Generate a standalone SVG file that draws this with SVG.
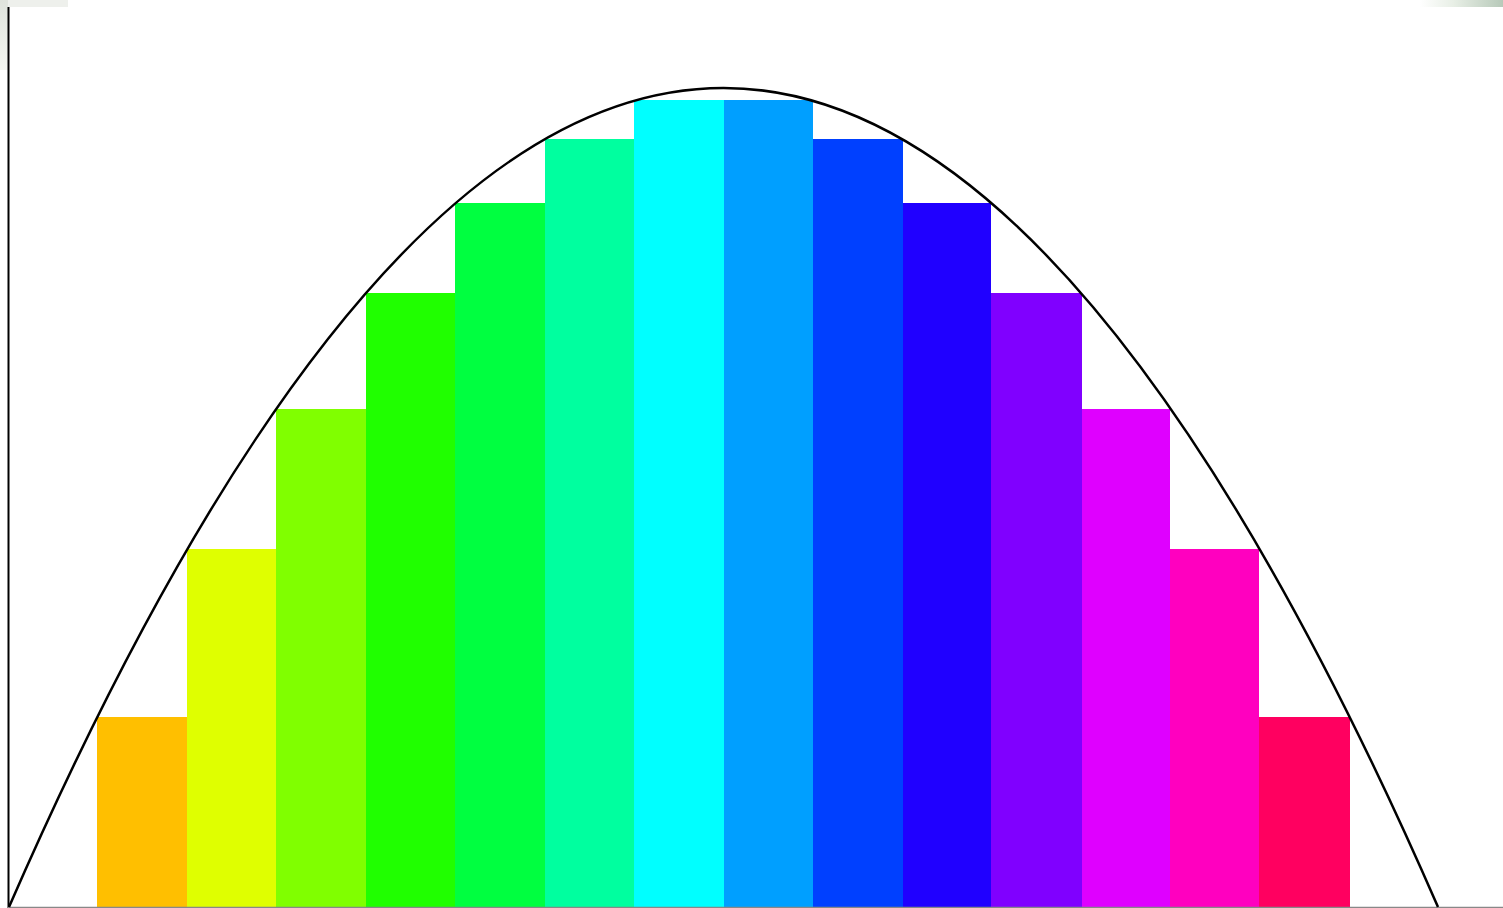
<svg xmlns="http://www.w3.org/2000/svg" width="1503" height="908" viewBox="0 0 1503 908">
<style>
.bar{shape-rendering:crispEdges}
.curve{fill:none;stroke:#000;stroke-width:2.5}
.axis{stroke:#000;stroke-width:2;fill:none}
</style>
<defs>
<linearGradient id="tr" x1="0" y1="0" x2="1" y2="0">
<stop offset="0" stop-color="#ffffff"/>
<stop offset="0.4" stop-color="#e8efe6"/>
<stop offset="1" stop-color="#b7c9b9"/>
</linearGradient>
<linearGradient id="tl" x1="0" y1="0" x2="0" y2="1">
<stop offset="0" stop-color="#dfe3dc"/>
<stop offset="1" stop-color="#f4f7f1"/>
</linearGradient>
</defs>
<rect x="0" y="0" width="1503" height="908" fill="#fff"/>
<rect x="1420" y="0" width="83" height="7" fill="url(#tr)"/>
<rect x="0" y="0" width="8" height="70" fill="url(#tl)"/>
<rect x="8" y="0" width="60" height="7" fill="#eef0ec"/>
<g id="bars">
<rect id="bar1" class="bar" x="97" y="717" width="90" height="191" fill="#FFBF00"/>
<rect id="bar2" class="bar" x="187" y="549" width="89" height="359" fill="#DFFF00"/>
<rect id="bar3" class="bar" x="276" y="409" width="90" height="499" fill="#80FF00"/>
<rect id="bar4" class="bar" x="366" y="293" width="89" height="615" fill="#20FF00"/>
<rect id="bar5" class="bar" x="455" y="203" width="90" height="705" fill="#00FF40"/>
<rect id="bar6" class="bar" x="545" y="139" width="89" height="769" fill="#00FF9F"/>
<rect id="bar7" class="bar" x="634" y="100" width="90" height="808" fill="#00FFFF"/>
<rect id="bar8" class="bar" x="724" y="100" width="89" height="808" fill="#009FFF"/>
<rect id="bar9" class="bar" x="813" y="139" width="90" height="769" fill="#0040FF"/>
<rect id="bar10" class="bar" x="903" y="203" width="88" height="705" fill="#2000FF"/>
<rect id="bar11" class="bar" x="991" y="293" width="91" height="615" fill="#8000FF"/>
<rect id="bar12" class="bar" x="1082" y="409" width="88" height="499" fill="#DF00FF"/>
<rect id="bar13" class="bar" x="1170" y="549" width="89" height="359" fill="#FF00BF"/>
<rect id="bar14" class="bar" x="1259" y="717" width="91" height="191" fill="#FF0060"/>
</g>
<g id="axes">
<line class="axis" x1="8.5" y1="7" x2="8.5" y2="908"/>
<line x1="8" y1="907.5" x2="1503" y2="907.5" stroke="#888" stroke-width="1.5"/>
</g>
<g id="curve">
<path class="curve" d="M9,907 Q723.5,-731 1438,907"/>
</g>
</svg>
